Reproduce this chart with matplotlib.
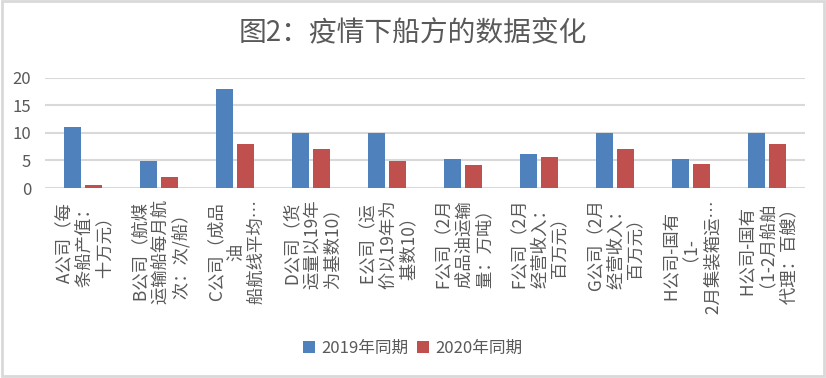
import matplotlib
matplotlib.use('Agg')
import matplotlib.pyplot as plt
import matplotlib.transforms as mtransforms
import numpy as np
from matplotlib.patches import Rectangle

plt.rcParams['font.family'] = ['Noto Sans CJK SC', 'DejaVu Sans']

# Données
categories = [
    "A公司（每\n条船产值：\n十万元）",
    "B公司（航煤\n运输船每月航\n次：次/船）",
    "C公司（成品\n油\n船航线平均…",
    "D公司（货\n运量以19年\n为基数10）",
    "E公司（运\n价以19年为\n基数10）",
    "F公司（2月\n成品油运输\n量：万吨）",
    "F公司（2月\n经营收入：\n百万元）",
    "G公司（2月\n经营收入：\n百万元）",
    "H公司-国有\n（1-\n2月集装箱运…",
    "H公司-国有\n（1-2月船舶\n代理：百艘）",
]
val_2019 = [11.1, 4.9, 17.9, 10, 10, 5.2, 6.1, 10, 5.2, 10]
val_2020 = [0.5, 2.0, 8.0, 7.0, 4.9, 4.1, 5.6, 7.0, 4.3, 8.0]
series_names = ["2019年同期", "2020年同期"]
yticks = [0, 5, 10, 15, 20]

blue = '#4F81BD'
red = '#C0504D'
gris = '#595959'

fig = plt.figure(figsize=(8.26, 3.78), dpi=100)
ax = fig.add_axes([0.0545, 0.5026, 0.92, 0.2918])

x = np.arange(len(categories))
w = 0.22
ax.bar(x - 0.135, val_2019, w, color=blue, label=series_names[0], zorder=3)
ax.bar(x + 0.135, val_2020, w, color=red, label=series_names[1], zorder=3)

ax.set_xlim(-0.5, len(categories) - 0.5)
ax.set_ylim(0, 20)
ax.set_yticks(yticks)
ax.yaxis.grid(True, color='#D9D9D9', linewidth=1.5, zorder=0)
ax.tick_params(axis='y', length=0, pad=10, labelsize=12, labelcolor=gris)
for s in ax.spines.values():
    s.set_visible(False)

# Étiquettes verticales : une ligne = un texte, lignes centrées entre elles.
# Espace en tête : sinon le « （ » initial décale la ligne tournée vers la droite.
ax.set_xticks([])
pas = 20 / 76  # écart entre lignes, en unités de catégorie
groupes = []
for i, lab in enumerate(categories):
    lignes = lab.split('\n')
    n = len(lignes)
    txts = []
    for k, ligne in enumerate(lignes):
        t = ax.text(i + (k - (n - 1) / 2) * pas, 0, ' ' + ligne, rotation=90,
                    rotation_mode='anchor', ha='center', va='center_baseline',
                    fontsize=12.5, color=gris, transform=ax.get_xaxis_transform(),
                    clip_on=False)
        txts.append(t)
    groupes.append(txts)

fig.canvas.draw()
rend = fig.canvas.get_renderer()
haut = 12  # px entre l'axe et le haut des étiquettes
for txts in groupes:
    L = max(t.get_window_extent(rend).height for t in txts)
    dy = -(haut + L / 2) / fig.dpi
    for t in txts:
        t.set_transform(ax.get_xaxis_transform()
                        + mtransforms.ScaledTranslation(0, dy, fig.dpi_scale_trans))

fig.text(0.5, 0.912, "图2：疫情下船方的数据变化", ha='center', va='center',
         fontsize=20, color=gris)

fig.legend(loc='center', bbox_to_anchor=(0.5, 0.079), ncol=2, frameon=False,
           fontsize=12, handlelength=0.7, handleheight=0.7, handletextpad=0.4,
           columnspacing=0.5, labelcolor=gris)

# Cadre gris autour de la figure
fig.patches.append(Rectangle((0.002, 0.004), 0.995, 0.993, transform=fig.transFigure,
                             fill=False, edgecolor='#D9D9D9', linewidth=2))

fig.savefig('out.png', dpi=100)
